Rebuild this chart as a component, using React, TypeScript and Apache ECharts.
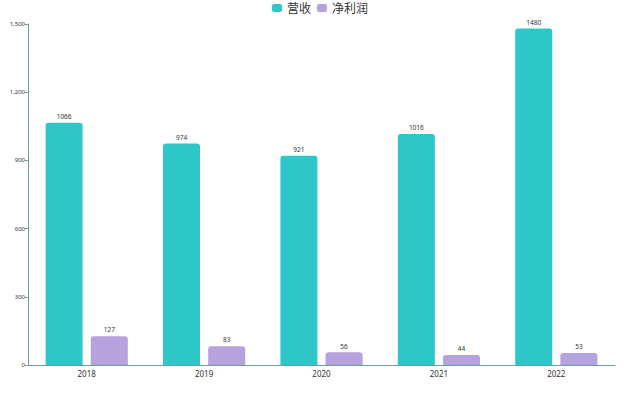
import React, { useEffect, useRef } from "react";
import * as echarts from "echarts";

const categories = ["2018", "2019", "2020", "2021", "2022"];
const revenue = [1066, 974, 921, 1016, 1480];
const profit = [127, 83, 56, 44, 53];
const seriesNames = ["营收", "净利润"];

export default function App() {
  const ref = useRef<HTMLDivElement>(null);
  useEffect(() => {
    const chart = echarts.init(ref.current!, null, { renderer: "svg" });
    const font = "'Noto Sans', 'Noto Sans CJK SC', sans-serif";
    const axisColor = "#6f9c9c";
    chart.setOption({
      animation: false,
      textStyle: { fontFamily: font },
      color: ["#2ec7c9", "#b6a2de"],
      legend: {
        top: -3,
        left: "center",
        itemWidth: 10,
        itemHeight: 8,
        itemGap: 6,
        textStyle: { fontSize: 12, color: "#333", fontFamily: font },
        data: seriesNames,
      },
      grid: { left: 28, right: 25, top: 24, bottom: 35, containLabel: false },
      xAxis: {
        type: "category",
        data: categories,
        axisLine: { lineStyle: { color: axisColor } },
        axisTick: { lineStyle: { color: axisColor } },
        axisLabel: { fontSize: 8, color: "#333", margin: 4 },
      },
      yAxis: {
        type: "value",
        min: 0,
        max: 1500,
        interval: 300,
        axisLine: { show: true, lineStyle: { color: axisColor } },
        axisTick: { show: true, length: 3, lineStyle: { color: axisColor } },
        splitLine: { show: false },
        axisLabel: { fontSize: 6, color: "#333", margin: 3 },
      },
      series: [
        {
          name: seriesNames[0],
          type: "bar",
          data: revenue,
          barGap: "22%",
          barCategoryGap: "30%",
          itemStyle: { borderRadius: [3, 3, 0, 0] },
          label: { show: true, position: "top", fontSize: 6.5, color: "#333", distance: 3 },
        },
        {
          name: seriesNames[1],
          type: "bar",
          data: profit,
          itemStyle: { borderRadius: [3, 3, 0, 0] },
          label: { show: true, position: "top", fontSize: 6.5, color: "#333", distance: 3 },
        },
      ],
    });
    return () => chart.dispose();
  }, []);
  return <div ref={ref} style={{ width: 640, height: 400, position: "absolute", left: 0, top: 0 }} />;
}
